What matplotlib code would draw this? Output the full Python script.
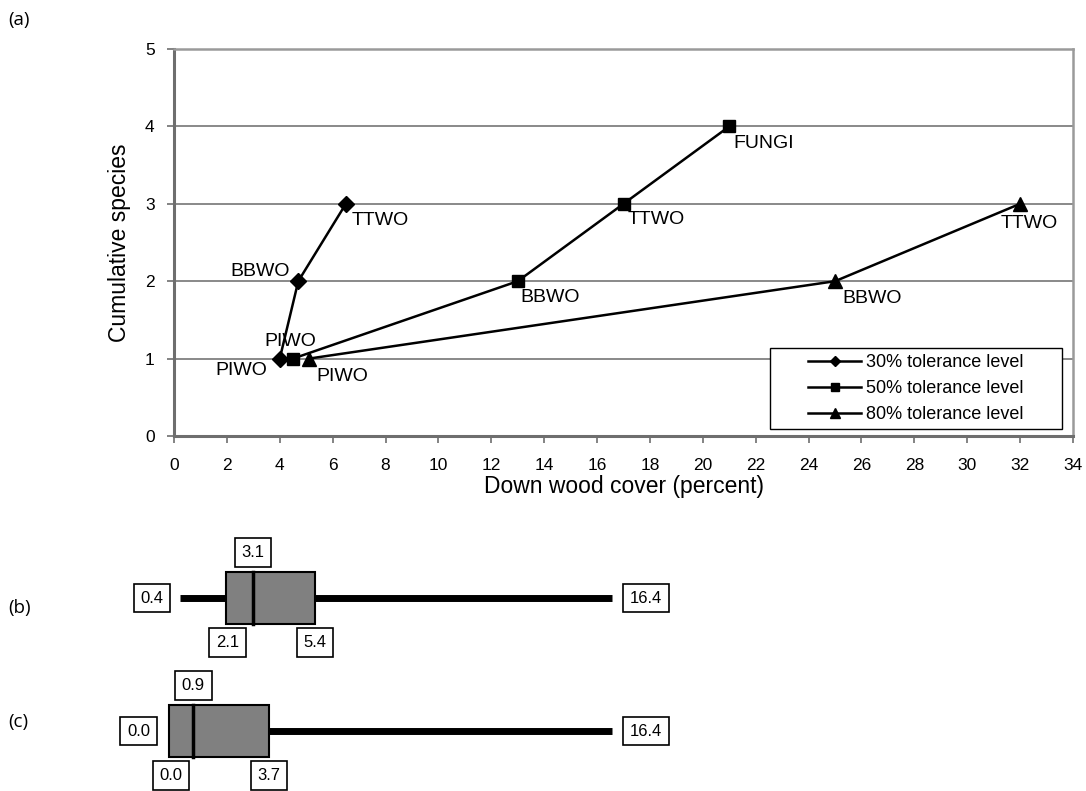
import matplotlib.pyplot as plt
from matplotlib.patches import Rectangle

plt.rcParams['font.family'] = ['Liberation Sans', 'DejaVu Sans']

# (a) cumulative species vs down wood cover
cover_30 = [4.0, 4.7, 6.5]
species_30 = [1, 2, 3]
names_30 = ['PIWO', 'BBWO', 'TTWO']

cover_50 = [4.5, 13.0, 17.0, 21.0]
species_50 = [1, 2, 3, 4]
names_50 = ['PIWO', 'BBWO', 'TTWO', 'FUNGI']

cover_80 = [5.1, 25.0, 32.0]
species_80 = [1, 2, 3]
names_80 = ['PIWO', 'BBWO', 'TTWO']

series_labels = ['30% tolerance level', '50% tolerance level', '80% tolerance level']

# (b), (c) box summaries: min, q1, median, q3, max
box_b = [0.4, 2.1, 3.1, 5.4, 16.4]
box_c = [0.0, 0.0, 0.9, 3.7, 16.4]

PX = 0.72  # points per pixel at dpi 100


def label_points(ax, xs, ys, names, offsets, aligns):
    for x, y, name, (dx, dy), ha in zip(xs, ys, names, offsets, aligns):
        ax.annotate(name, (x, y), xytext=(dx * PX, dy * PX), textcoords='offset points',
                    ha=ha, va='center', fontsize=14)


def draw_box(ax, stats, row, left_gap=16):
    lo, q1, med, q3, hi = stats
    half = 26
    ax.plot([lo, hi], [row, row], color='black', lw=5, solid_capstyle='butt', zorder=1)
    ax.add_patch(Rectangle((q1, row - half), q3 - q1, 2 * half, facecolor='#808080',
                           edgecolor='black', lw=1.5, zorder=2))
    ax.plot([med, med], [row - half, row + half], color='black', lw=2.5, zorder=3)
    bb = dict(boxstyle='square,pad=0.4', fc='white', ec='black', lw=1.2)
    kw = dict(textcoords='offset points', fontsize=12, bbox=bb, zorder=4)
    ax.annotate(f'{lo:.1f}', (lo, row), xytext=(-left_gap * PX, 0), ha='right', va='center', **kw)
    ax.annotate(f'{hi:.1f}', (hi, row), xytext=(18 * PX, 0), ha='left', va='center', **kw)
    ax.annotate(f'{med:.1f}', (med, row - half), xytext=(0, 12 * PX), ha='center', va='bottom', **kw)
    ax.annotate(f'{q1:.1f}', (q1, row + half), xytext=(2 * PX, -11 * PX), ha='center', va='top', **kw)
    ax.annotate(f'{q3:.1f}', (q3, row + half), xytext=(0, -11 * PX), ha='center', va='top', **kw)


def main():
    fig = plt.figure(figsize=(10.86, 7.91), dpi=100)
    ax = fig.add_axes([174 / 1086, 1 - 436 / 791, 899 / 1086, 387 / 791])

    line_kw = dict(color='black', lw=1.8)
    ax.plot(cover_30, species_30, marker='D', ms=8, label=series_labels[0], **line_kw)
    ax.plot(cover_50, species_50, marker='s', ms=9, label=series_labels[1], **line_kw)
    ax.plot(cover_80, species_80, marker='^', ms=10, label=series_labels[2], **line_kw)

    label_points(ax, cover_30, species_30, names_30,
                 [(-13, -12), (-8, 10), (6, -17)], ['right', 'right', 'left'])
    label_points(ax, cover_50, species_50, names_50,
                 [(-3, 17), (3, -16), (4, -16), (4, -17)], ['center', 'left', 'left', 'left'])
    label_points(ax, cover_80, species_80, names_80,
                 [(8, -18), (7, -17), (9, -20)], ['left', 'left', 'center'])

    ax.set_xlim(0, 34)
    ax.set_ylim(0, 5)
    ax.set_xticks(range(0, 35, 2))
    ax.set_yticks(range(0, 6))
    ax.yaxis.grid(True, color='#808080', lw=1.3)
    ax.set_axisbelow(True)
    for side in ['top', 'right']:
        ax.spines[side].set_color('#9a9a9a')
        ax.spines[side].set_linewidth(1.8)
    for side in ['left', 'bottom']:
        ax.spines[side].set_color('#6e6e6e')
        ax.spines[side].set_linewidth(2.2)
    ax.tick_params(axis='both', direction='out', length=5, color='#6e6e6e', labelsize=12.5, width=1.2)
    ax.tick_params(axis='x', pad=11)
    ax.tick_params(axis='y', pad=9)
    ax.set_xlabel('Down wood cover (percent)', fontsize=16.5, labelpad=1)
    ax.set_ylabel('Cumulative species', fontsize=16.5, labelpad=10)

    # legend frame drawn separately so the entries sit centred in a wide box
    ax.add_patch(Rectangle((596 / 899, 7 / 387), 292 / 899, 81 / 387, transform=ax.transAxes,
                           facecolor='white', edgecolor='black', lw=1.0, zorder=4))
    ax.legend(loc='center', bbox_to_anchor=(742 / 899, 47.5 / 387), fontsize=13, frameon=False,
              markerscale=0.7, handlelength=2.9, labelspacing=0.5, handletextpad=0.3,
              borderpad=0, borderaxespad=0).set_zorder(5)

    # (b) and (c): x in data units, y in figure pixels
    bx = fig.add_axes([0, 0, 1, 271 / 791])
    bx.set_xlim(-169 / 27, (1086 - 169) / 27)
    bx.set_ylim(791, 520)
    bx.axis('off')
    draw_box(bx, box_b, 598)
    draw_box(bx, box_c, 731, left_gap=19)

    panel_kw = dict(fontsize=13.5, va='center', family=['Open Sans', 'DejaVu Sans'])
    fig.text(8 / 1086, 1 - 20 / 791, '(a)', **panel_kw)
    fig.text(8 / 1086, 1 - 608 / 791, '(b)', **panel_kw)
    fig.text(8 / 1086, 1 - 722 / 791, '(c)', **panel_kw)

    fig.savefig('out.png', dpi=100)


if __name__ == '__main__':
    main()
